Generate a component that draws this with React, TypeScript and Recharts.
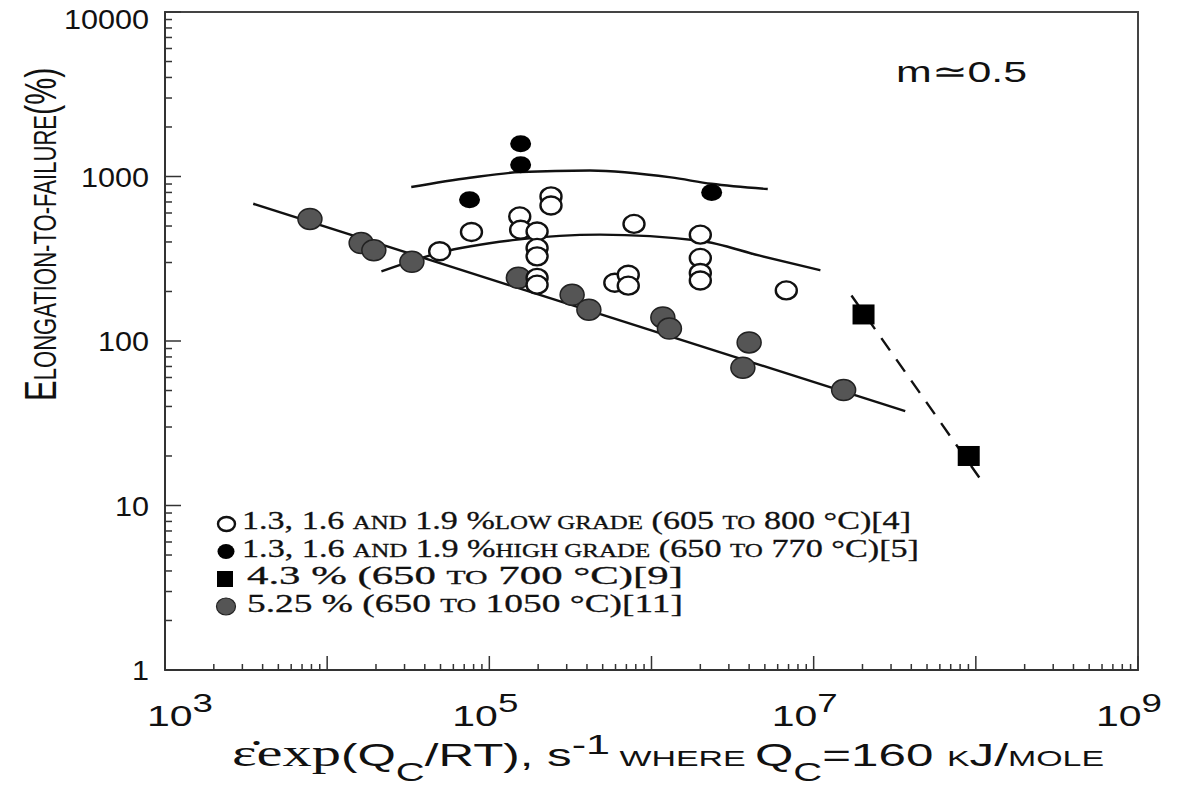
import { ScatterChart, Scatter, XAxis, YAxis, ReferenceArea, Legend } from 'recharts';

// 1.3, 1.6 and 1.9 % low grade (open circles)
const lowGradeX = [4.94e4, 7.76e4, 1.54e5, 1.56e5, 1.97e5, 2.4e5, 2.4e5, 1.97e5, 1.97e5, 1.97e5, 1.97e5, 7.8e5, 5.94e5, 7.19e5, 7.19e5, 2.0e6, 2.0e6, 2.0e6, 2.0e6, 6.78e6];
const lowGradeY = [351, 460, 572, 475, 463, 757, 667, 368, 327, 242, 220, 515, 226, 253, 217, 443, 320, 259, 233, 203];

// 1.3, 1.6 and 1.9 % high grade (black circles)
const highGradeX = [1.56e5, 1.56e5, 7.55e4, 2.35e6];
const highGradeY = [1580, 1180, 722, 800];

// 4.3 % (black squares)
const alloy43X = [2.03e7, 9.04e7];
const alloy43Y = [145, 20];

// 5.25 % (grey circles)
const alloy525X = [7.83e3, 1.62e4, 1.94e4, 3.33e4, 1.51e5, 3.24e5, 4.11e5, 1.175e6, 1.29e6, 4.0e6, 3.66e6, 1.53e7];
const alloy525Y = [552, 394, 356, 303, 242, 191, 155, 139, 119, 98, 68.8, 50.3];

// trend lines
const lowerFitX = [3.5e3, 3.67e7];
const lowerFitY = [683, 37.5];
const middleFitX = [2.16e4, 4.95e4, 1.49e5, 4.81e5, 1.99e6, 4.66e6, 1.1e7];
const middleFitY = [265, 344, 413, 443, 407, 330, 269];
const upperFitX = [3.3e4, 7.59e4, 1.56e5, 4.17e5, 1.32e6, 2.34e6, 5.21e6];
const upperFitY = [863, 982, 1064, 1088, 987, 903, 839];
const dashFitX = [1.71e7, 1.05e8];
const dashFitY = [189, 14.8];

// axis ticks
const xDecades = [3, 4, 5, 6, 7, 8];
const yDecades = [0, 1, 2, 3];
const multipliers = [1, 2, 3, 4, 5, 6, 7, 8, 9];
const xLabeled = [3, 5, 7, 9];
const xTicks = [...xDecades.flatMap(d => multipliers.map(m => m * 10 ** d)), 1e9];
const yTicks = [...yDecades.flatMap(d => multipliers.map(m => m * 10 ** d)), 1e4];

const zip = (xs: number[], ys: number[]) => xs.map((x, i) => ({ x, y: ys[i] }));

const SANS = 'Liberation Sans, Arial, Helvetica, sans-serif';
const SERIF = 'Liberation Serif, Times New Roman, serif';
const INK = '#111';

const isDecade = (v: number) => {
  const lg = Math.log10(v);
  return Math.abs(lg - Math.round(lg)) < 1e-6;
};

const XTick = (props: any) => {
  const { x, y, payload } = props;
  const v = payload.value;
  const major = isDecade(v);
  const exp = Math.round(Math.log10(v));
  const shift: Record<number, number> = { 3: 15, 5: -4, 7: -9, 9: -9 };
  return (
    <g>
      <line x1={x} x2={x} y1={y} y2={y - (major ? 14 : 6)} stroke="#333" strokeWidth={1.5} />
      {major && xLabeled.includes(exp) && (
        <text x={x + shift[exp]} y={y + 56} textAnchor="middle" fontFamily={SANS} fontSize={29} fill={INK}
          textLength={66} lengthAdjust="spacingAndGlyphs">
          10<tspan fontSize={26} dy={-14}>{exp}</tspan>
        </text>
      )}
    </g>
  );
};

const YTick = (props: any) => {
  const { x, y, payload } = props;
  const v = payload.value;
  const major = isDecade(v);
  const label = String(v);
  return (
    <g>
      <line x1={x} x2={x + (major ? 16 : 7)} y1={y} y2={y} stroke="#333" strokeWidth={1.5} />
      {major && (
        <text x={x - 16} y={Math.max(y + 10, 29)} textAnchor="end" fontFamily={SANS} fontSize={27} fill={INK}
          textLength={label.length * 17} lengthAdjust="spacingAndGlyphs">
          {label}
        </text>
      )}
    </g>
  );
};

const XTitle = () => (
  <text x={232} y={766} fontFamily={SANS} fontSize={32} fill={INK} textLength={872} lengthAdjust="spacingAndGlyphs">
    <tspan fontFamily={SERIF} fontSize={38}>{'\u03B5\u0307exp'}</tspan>
    <tspan>(Q</tspan>
    <tspan fontSize={26} dy={15}>C</tspan>
    <tspan dy={-15}>/RT), s</tspan>
    <tspan fontSize={28} dy={-12}>-1</tspan>
    <tspan fontSize={22} dy={12}> WHERE </tspan>
    <tspan>Q</tspan>
    <tspan fontSize={26} dy={15}>C</tspan>
    <tspan dy={-15}>=160 </tspan>
    <tspan fontSize={22}>K</tspan>
    <tspan>J/</tspan>
    <tspan fontSize={22}>MOLE</tspan>
  </text>
);

// rotated title, squeezed along its length like the narrow face in the original
const YTitle = () => (
  <g transform="translate(56,401) rotate(-90) scale(0.69,1)">
    <text x={0} y={0} textAnchor="start" fontFamily={SANS} fill={INK}>
      <tspan fontSize={45}>E</tspan>
      <tspan fontSize={32}>LONGATION-TO-FAILURE</tspan>
      <tspan fontSize={44}>(%)</tspan>
    </text>
  </g>
);

const legendRows = [
  { kind: 'open', parts: [['1.3, 1.6 ', 26], ['AND', 19], [' 1.9 %', 26], ['LOW GRADE', 19], [' (605 ', 26], ['TO', 19], [' 800 °C)[4]', 26]], len: 669 },
  { kind: 'black', parts: [['1.3, 1.6 ', 26], ['AND', 19], [' 1.9 %', 26], ['HIGH GRADE', 19], [' (650 ', 26], ['TO', 19], [' 770 °C)[5]', 26]], len: 677 },
  { kind: 'square', parts: [['4.3 % (650 ', 26], ['TO', 19], [' 700 °C)[9]', 26]], len: 436 },
  { kind: 'grey', parts: [['5.25 % (650 ', 26], ['TO', 19], [' 1050 °C)[11]', 26]], len: 436 },
];

const renderLegend = () => (
  <svg width={740} height={125} style={{ display: 'block' }}>
    {legendRows.map((row, i) => {
      const base = 29 + i * 27.5;
      const cy = base - 5;
      let marker;
      if (row.kind === 'open') marker = <ellipse cx={26.5} cy={cy} rx={8.5} ry={7} fill="#fff" stroke={INK} strokeWidth={2.4} />;
      else if (row.kind === 'black') marker = <ellipse cx={26} cy={cy} rx={8.5} ry={7.5} fill="#000" />;
      else if (row.kind === 'square') marker = <rect x={17} y={cy - 8} width={16} height={16} fill="#000" />;
      else marker = <ellipse cx={26} cy={cy} rx={9.5} ry={8.5} fill="#555" stroke="#222" strokeWidth={1.2} />;
      const tx = row.kind === 'open' || row.kind === 'black' ? 42 : 47;
      return (
        <g key={i}>
          {marker}
          <text x={tx} y={base} fontFamily={SERIF} fill={INK} stroke={INK} strokeWidth={0.3}
            textLength={row.len} lengthAdjust="spacingAndGlyphs">
            {row.parts.map(([t, s], j) => (
              <tspan key={j} fontSize={s as number}>{t as string}</tspan>
            ))}
          </text>
        </g>
      );
    })}
  </svg>
);

const noDot = () => <g />;
const openDot = (p: any) => <ellipse cx={p.cx} cy={p.cy} rx={10.5} ry={9} fill="#fff" stroke={INK} strokeWidth={2.4} />;
const blackDot = (p: any) => <ellipse cx={p.cx} cy={p.cy} rx={10.5} ry={8.5} fill="#000" />;
const squareDot = (p: any) => <rect x={p.cx - 11} y={p.cy - 10} width={22} height={20} fill="#000" />;
const greyDot = (p: any) => <ellipse cx={p.cx} cy={p.cy} rx={12} ry={10.5} fill="#555" stroke="#222" strokeWidth={1.5} />;

export default function App() {
  return (
    <div style={{ position: 'absolute', left: 0, top: 0, width: 1178, height: 787, background: '#fff' }}>
      <ScatterChart width={1178} height={787} margin={{ top: 12, right: 40, bottom: 0, left: 0 }}>
        <XAxis
          type="number"
          dataKey="x"
          scale="log"
          domain={[1e3, 1e9]}
          allowDataOverflow
          ticks={xTicks}
          interval={0}
          height={117}
          tickLine={false}
          tickSize={0}
          tickMargin={0}
          tick={<XTick />}
          axisLine={{ stroke: '#333', strokeWidth: 2 }}
          label={XTitle}
        />
        <YAxis
          type="number"
          dataKey="y"
          scale="log"
          domain={[1, 1e4]}
          allowDataOverflow
          ticks={yTicks}
          interval={0}
          width={165}
          tickLine={false}
          tickSize={0}
          tickMargin={0}
          tick={<YTick />}
          axisLine={{ stroke: '#333', strokeWidth: 2 }}
          label={YTitle}
        />
        <ReferenceArea x1={1e3} x2={1e9} y1={1} y2={1e4} fill="none" stroke="#444" strokeWidth={2} />
        <Legend
          layout="horizontal"
          verticalAlign="middle"
          align="center"
          content={renderLegend}
          wrapperStyle={{ left: 200, top: 500, width: 740, height: 125 }}
        />
        <Scatter data={zip(lowerFitX, lowerFitY)} line={{ stroke: INK, strokeWidth: 2.4 }} lineJointType="linear" shape={noDot} isAnimationActive={false} />
        <Scatter data={zip(middleFitX, middleFitY)} line={{ stroke: INK, strokeWidth: 2.4 }} lineJointType="monotoneX" shape={noDot} isAnimationActive={false} />
        <Scatter data={zip(upperFitX, upperFitY)} line={{ stroke: INK, strokeWidth: 2.4 }} lineJointType="monotoneX" shape={noDot} isAnimationActive={false} />
        <Scatter data={zip(dashFitX, dashFitY)} line={{ stroke: INK, strokeWidth: 2.4, strokeDasharray: '15 11' }} lineJointType="linear" shape={noDot} isAnimationActive={false} />
        <Scatter data={zip(alloy525X, alloy525Y)} shape={greyDot} isAnimationActive={false} />
        <Scatter data={zip(lowGradeX, lowGradeY)} shape={openDot} isAnimationActive={false} />
        <Scatter data={zip(highGradeX, highGradeY)} shape={blackDot} isAnimationActive={false} />
        <Scatter data={zip(alloy43X, alloy43Y)} shape={squareDot} isAnimationActive={false} />
      </ScatterChart>
      <div style={{ position: 'absolute', left: 896, top: 56, pointerEvents: 'none' }}>
        <svg width={140} height={34}>
          <text x={0} y={26} fontFamily={SANS} fontSize={30} fill={INK} textLength={131} lengthAdjust="spacingAndGlyphs">m≃0.5</text>
        </svg>
      </div>
    </div>
  );
}
